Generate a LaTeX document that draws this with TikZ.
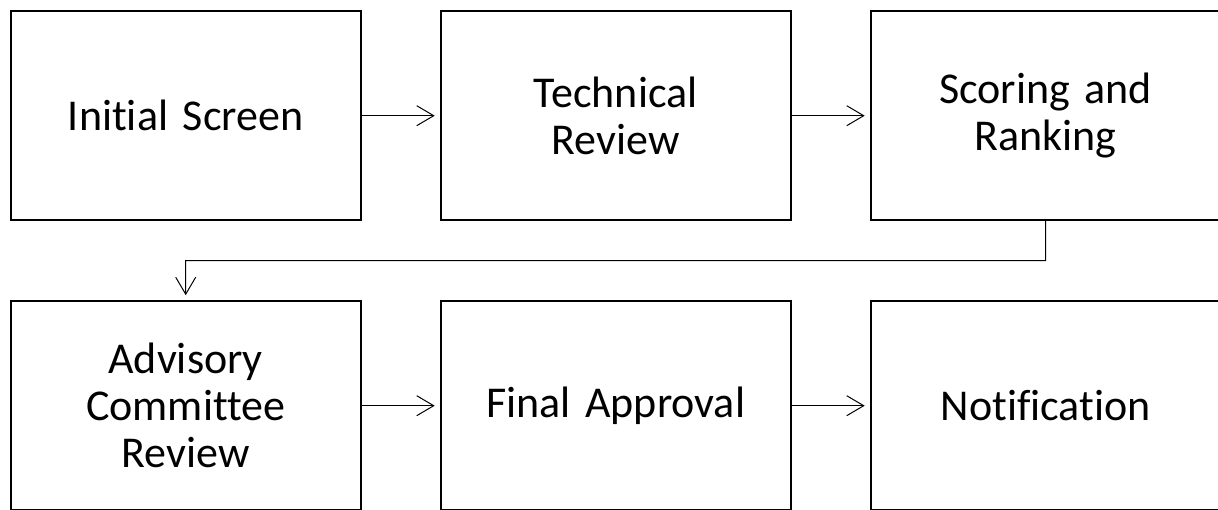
\documentclass[tikz,border=0pt]{standalone}
\usepackage{fontspec}
\setmainfont[Ligatures={NoCommon}]{Carlito}
\usetikzlibrary{arrows.meta,calc}
\begin{document}
\begin{tikzpicture}[x=1pt,y=-1pt,
  stagebox/.style={draw=black, line width=2.2pt, minimum width=350pt, minimum height=209pt,
    inner sep=0pt, outer sep=0pt, align=center, text width=330pt,
    font=\fontsize{44}{47}\selectfont},
  arr/.style={draw=black, line width=1pt, shorten >=6pt, -{Straight Barb[length=17pt,width=20pt,line width=1pt]}}]
\useasboundingbox (0,0) rectangle (1218,509);
\clip (0,0) rectangle (1218,509);
\node[stagebox] (n1) at (185.7,115.7) {Initial Screen};
\node[stagebox] (n2) at (615.7,115.7) {Technical\\Review};
\node[stagebox] (n3) at (1045.7,115.7) {Scoring and\\Ranking};
\node[stagebox] (n4) at (185.7,405.7) {Advisory\\Committee\\Review};
\node[stagebox] (n5) at (615.7,405.7) {Final Approval};
\node[stagebox] (n6) at (1045.7,405.7) {Notification};
\draw[arr] (n1.east) -- (n2.west);
\draw[arr] (n2.east) -- (n3.west);
\coordinate (m) at ($(n3.south)!0.5!(n3.south |- n4.north)$);
\draw[arr] (n3.south) -- (m) -| (n4.north);
\draw[arr] (n4.east) -- (n5.west);
\draw[arr] (n5.east) -- (n6.west);
\end{tikzpicture}
\end{document}
